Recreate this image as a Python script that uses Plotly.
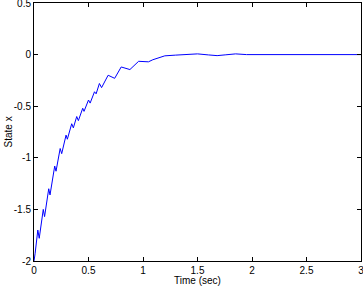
import plotly.graph_objects as go

time_sec = [0.000, 0.010, 0.035, 0.048, 0.085, 0.097, 0.135, 0.147, 0.190, 0.202,
            0.240, 0.254, 0.294, 0.306, 0.346, 0.361, 0.392, 0.407, 0.447, 0.459,
            0.500, 0.515, 0.555, 0.570, 0.600, 0.620, 0.680, 0.740, 0.800, 0.870,
            0.880, 0.960, 1.050, 1.090, 1.200, 1.300, 1.400, 1.500, 1.600, 1.680,
            1.760, 1.850, 1.950, 3.000]
state_x = [-2.00, -1.93, -1.70, -1.78, -1.50, -1.57, -1.30, -1.36, -1.08, -1.13,
           -0.91, -0.96, -0.78, -0.82, -0.67, -0.71, -0.60, -0.64, -0.52, -0.55,
           -0.44, -0.47, -0.36, -0.38, -0.28, -0.32, -0.20, -0.23, -0.12, -0.14,
           -0.145, -0.065, -0.07, -0.05, -0.012, -0.005, 0.002, 0.007, -0.003, -0.01,
           -0.002, 0.007, 0.0, 0.0]

x_ticks = [0, 0.5, 1, 1.5, 2, 2.5, 3]
x_tick_labels = ["0", "0.5", "1", "1.5", "2", "2.5", "3"]
y_ticks = [-2, -1.5, -1, -0.5, 0, 0.5]
y_tick_labels = ["-2", "-1.5", "-1", "-0.5", "0", "0.5"]

FONT = dict(family="Liberation Sans, Arial", size=10, color="black")

fig = go.Figure(go.Scatter(x=time_sec, y=state_x, mode="lines",
                           line=dict(color="#0000ff", width=1)))

axis_common = dict(showline=True, linecolor="black", linewidth=1, mirror="allticks",
                   ticks="inside", ticklen=4, tickcolor="black", showgrid=False,
                   zeroline=False, tickfont=FONT, automargin=False,
                   ticklabeloverflow="allow")

fig.update_xaxes(range=[0, 3], tickvals=x_ticks, ticktext=x_tick_labels, **axis_common)
fig.update_yaxes(range=[-2, 0.5], tickvals=y_ticks, ticktext=y_tick_labels, **axis_common)

fig.update_layout(
    width=363, height=288, margin=dict(l=34, r=2, t=3, b=27, autoexpand=False),
    paper_bgcolor="white", plot_bgcolor="white", showlegend=False,
    annotations=[
        dict(text="Time (sec)", xref="paper", yref="paper", x=0.5, y=0,
             yanchor="top", yshift=-12, showarrow=False, font=FONT),
        dict(text="State x", xref="paper", yref="paper", x=0, y=0.5,
             xanchor="right", xshift=-19, textangle=-90, showarrow=False, font=FONT),
    ],
)

fig.write_html("out.html", config={"displayModeBar": False},
               post_script="document.body.style.margin='0';")
